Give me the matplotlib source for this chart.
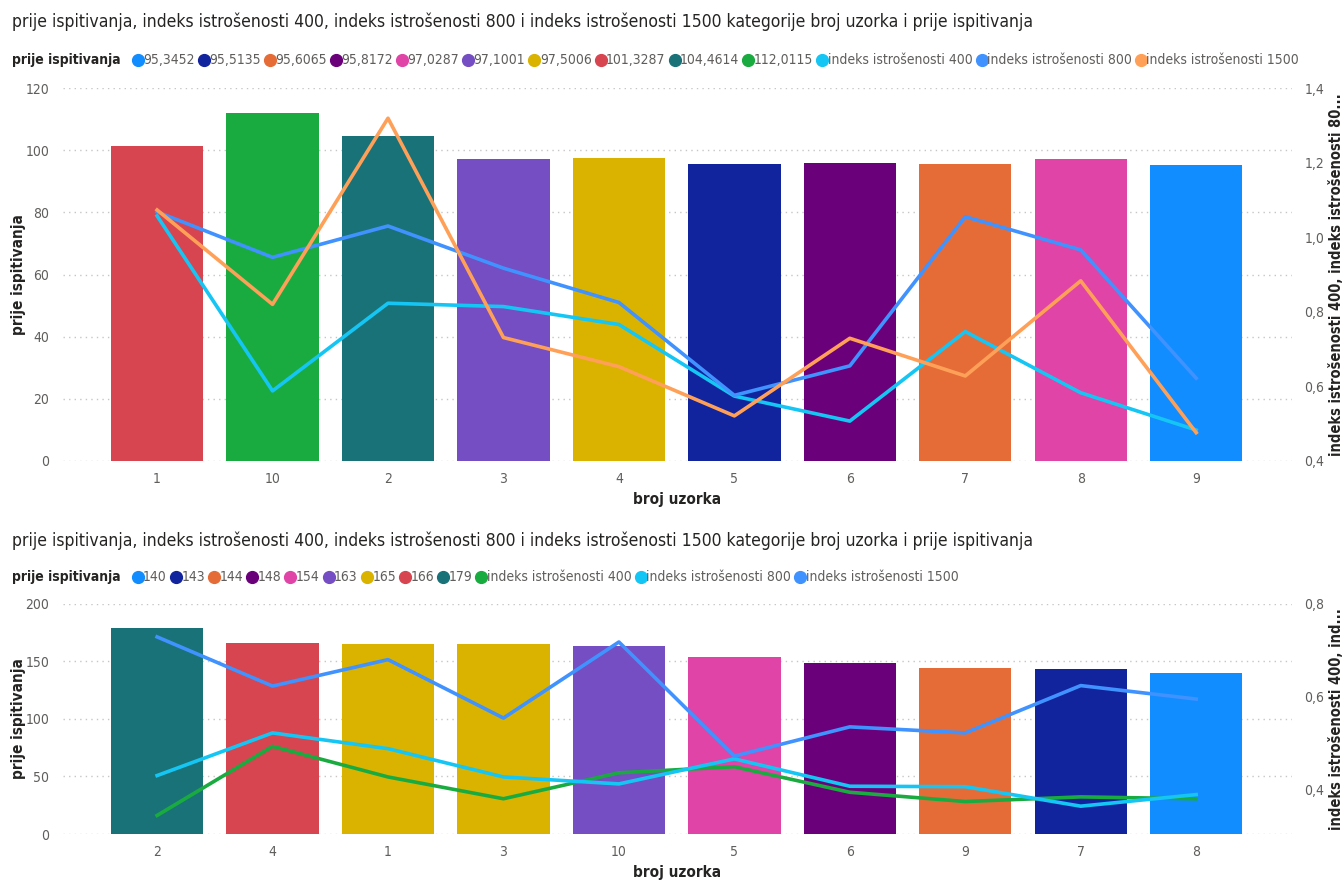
import matplotlib
matplotlib.use('Agg')
import matplotlib.pyplot as plt
from matplotlib.lines import Line2D
from matplotlib.ticker import FuncFormatter

plt.rcParams['font.stretch'] = 'condensed'

# Power BI default palette
palette = ['#118DFF', '#12239E', '#E66C37', '#6B007B', '#E044A7',
           '#744EC2', '#D9B300', '#D64550', '#197278', '#1AAB40']

title = 'prije ispitivanja, indeks istrošenosti 400, indeks istrošenosti 800 i indeks istrošenosti 1500 kategorije broj uzorka i prije ispitivanja'
line_names_top = ['indeks istrošenosti 400', 'indeks istrošenosti 800', 'indeks istrošenosti 1500']
line_names_bot = ['indeks istrošenosti 400', 'indeks istrošenosti 800', 'indeks istrošenosti 1500']

# ---- top chart data
cats_top = ['1', '10', '2', '3', '4', '5', '6', '7', '8', '9']
prije_top = [101.3287, 112.0115, 104.4614, 97.1001, 97.5006, 95.5135, 95.8172, 95.6065, 97.0287, 95.3452]
legend_top = [95.3452, 95.5135, 95.6065, 95.8172, 97.0287, 97.1001, 97.5006, 101.3287, 104.4614, 112.0115]
idx400_top = [1.057, 0.588, 0.823, 0.814, 0.766, 0.574, 0.507, 0.747, 0.583, 0.483]
idx800_top = [1.068, 0.946, 1.030, 0.917, 0.825, 0.576, 0.655, 1.055, 0.966, 0.622]
idx1500_top = [1.073, 0.820, 1.319, 0.731, 0.653, 0.521, 0.729, 0.628, 0.883, 0.476]
line_colors_top = ['#15C6F4', '#4092FF', '#FFA058']

# ---- bottom chart data
cats_bot = ['2', '4', '1', '3', '10', '5', '6', '9', '7', '8']
prije_bot = [179, 166, 165, 165, 163, 154, 148, 144, 143, 140]
legend_bot = [140, 143, 144, 148, 154, 163, 165, 166, 179]
idx400_bot = [0.343, 0.492, 0.426, 0.379, 0.435, 0.448, 0.393, 0.373, 0.383, 0.379]
idx800_bot = [0.429, 0.521, 0.487, 0.426, 0.411, 0.465, 0.406, 0.405, 0.363, 0.388]
idx1500_bot = [0.728, 0.622, 0.679, 0.553, 0.717, 0.471, 0.534, 0.521, 0.623, 0.594]
line_colors_bot = ['#1AAB40', '#15C6F4', '#4092FF']

W, H = 1342, 881
fig = plt.figure(figsize=(W / 100, H / 100), dpi=100)
renderer = fig.canvas.get_renderer()
TXT = '#252423'
GRAY = '#605E5C'
AX_LEFT, AX_W = 63, 1229


def fmt_val(v):
    s = ('%.4f' % v).rstrip('0').rstrip('.') if v != int(v) else str(int(v))
    return s.replace('.', ',')


def legend_row(ypix, labels, colors):
    x = 12
    t = fig.text(x / W, 1 - ypix / H, 'prije ispitivanja', fontsize=10, weight='bold',
                 color=TXT, va='center')
    x += t.get_window_extent(renderer).width + 12
    for lab, col in zip(labels, colors):
        fig.add_artist(Line2D([(x + 5) / W], [1 - ypix / H], marker='o', markersize=8.5,
                              color=col, transform=fig.transFigure))
        t = fig.text((x + 10.5) / W, 1 - ypix / H, lab, fontsize=10, color=GRAY, va='center')
        x += 10.5 + t.get_window_extent(renderer).width + 4


def style_axes(ax, ax2):
    for a in (ax, ax2):
        for s in a.spines.values():
            s.set_visible(False)
        a.tick_params(length=0, labelsize=10, labelcolor=GRAY)
    ax.grid(axis='y', color='#C8C6C4', linestyle=(0, (1, 3)), linewidth=1)
    ax.set_axisbelow(True)
    ax.tick_params(axis='y', pad=10)
    ax.tick_params(axis='x', pad=8)
    ax2.tick_params(axis='y', pad=9)
    ax.set_xlim(-0.815, 9.83)
    ax.set_xlabel('broj uzorka', fontsize=11, color=TXT, labelpad=4, weight='semibold')
    ax.set_ylabel('prije ispitivanja', fontsize=11, color=TXT, weight='semibold')
    ax.yaxis.set_label_coords((26 - AX_LEFT) / AX_W, 0.5)
    ax2.yaxis.set_label_coords((1329 - AX_LEFT) / AX_W, 0.5)
    comma = FuncFormatter(lambda v, p: ('%.1f' % v).replace('.', ','))
    ax2.yaxis.set_major_formatter(comma)


def draw_chart(rect, cats, prije, leg_vals, lines, line_colors, ylim, yticks, ylim2, yticks2, ylabel2):
    ax = fig.add_axes(rect)
    x = list(range(len(cats)))
    cmap = {v: palette[i] for i, v in enumerate(leg_vals)}
    ax.bar(x, prije, width=0.8, color=[cmap[v] for v in prije])
    ax.set_xticks(x)
    ax.set_xticklabels(cats)
    ax.set_ylim(*ylim)
    ax.set_yticks(yticks)
    ax2 = ax.twinx()
    for vals, col in zip(lines, line_colors):
        ax2.plot(x, vals, color=col, linewidth=2.6)
    ax2.set_ylim(*ylim2)
    ax2.set_yticks(yticks2)
    ax2.set_ylabel(ylabel2, fontsize=10.5, color=TXT, weight='semibold')
    style_axes(ax, ax2)
    return ax, ax2


# top
fig.text(12 / W, 1 - 22 / H, title, fontsize=12.6, color=TXT, va='center')
legend_row(60, [fmt_val(v) for v in legend_top] + line_names_top, palette + line_colors_top)
draw_chart([AX_LEFT / W, (H - 461) / H, AX_W / W, 373 / H], cats_top, prije_top, legend_top,
           [idx400_top, idx800_top, idx1500_top], line_colors_top,
           (0, 120), range(0, 121, 20), (0.4, 1.4), [0.4, 0.6, 0.8, 1.0, 1.2, 1.4],
           'indeks istrošenosti 400, indeks istrošenosti 80...')

# bottom
fig.text(12 / W, 1 - 541 / H, title, fontsize=12.6, color=TXT, va='center')
legend_row(577, [fmt_val(v) for v in legend_bot] + line_names_bot, palette[:9] + line_colors_bot)
draw_chart([AX_LEFT / W, (H - 834) / H, AX_W / W, 230.5 / H], cats_bot, prije_bot, legend_bot,
           [idx400_bot, idx800_bot, idx1500_bot], line_colors_bot,
           (0, 200), range(0, 201, 50), (0.303, 0.8), [0.4, 0.6, 0.8],
           'indeks istrošenosti 400, ind...')

fig.savefig('out.png', dpi=100)
